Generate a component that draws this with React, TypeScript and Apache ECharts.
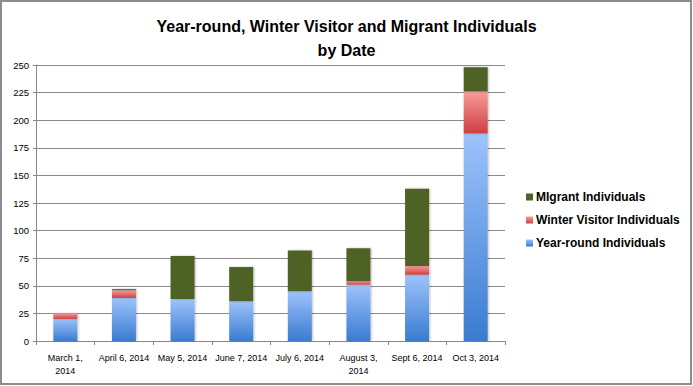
import React, { useEffect, useRef } from 'react';
import * as echarts from 'echarts';

const categories = [
  'March 1,\n2014',
  'April 6, 2014',
  'May 5, 2014',
  'June 7, 2014',
  'July 6, 2014',
  'August 3,\n2014',
  'Sept 6, 2014',
  'Oct 3, 2014',
];
const yearRound = [20, 39, 38, 36, 45, 51, 60, 188];
const winterVisitor = [5, 7, 0, 0, 0, 3, 8, 38];
const migrant = [0, 1, 39, 31, 37, 30, 70, 22];
const seriesNames = ['Year-round Individuals', 'Winter Visitor Individuals', 'MIgrant Individuals'];
const titleText = 'Year-round, Winter Visitor and Migrant Individuals\nby Date';

const FONT = '"Liberation Sans", Arial, sans-serif';

export default function App() {
  const ref = useRef<HTMLDivElement>(null);
  useEffect(() => {
    if (!ref.current) return;
    const chart = echarts.init(ref.current, undefined, { renderer: 'svg' });
    const blue = new echarts.graphic.LinearGradient(0, 0, 0, 1, [
      { offset: 0, color: '#9dc3fb' },
      { offset: 1, color: '#3a7bd0' },
    ]);
    const red = new echarts.graphic.LinearGradient(0, 0, 0, 1, [
      { offset: 0, color: '#f89c9c' },
      { offset: 1, color: '#cf3f3f' },
    ]);
    const green = '#4f6228';
    const shadow = { shadowBlur: 2, shadowColor: 'rgba(0,0,0,0.25)', shadowOffsetX: 1, shadowOffsetY: 0 };
    chart.setOption({
      animation: false,
      backgroundColor: '#ffffff',
      textStyle: { fontFamily: FONT },
      title: {
        text: titleText,
        left: 'center',
        top: 9,
        textStyle: { fontFamily: FONT, fontSize: 16, fontWeight: 'bold', color: '#000', lineHeight: 24 },
      },
      graphic: [
        {
          type: 'rect',
          shape: { x: 1, y: 1, width: 690, height: 383 },
          style: { fill: 'none', stroke: '#8c8c8c', lineWidth: 2 },
          silent: true,
        },
      ],
      legend: {
        orient: 'vertical',
        left: 521,
        top: 186,
        itemWidth: 7,
        itemHeight: 7,
        itemGap: 11,
        icon: 'rect',
        data: [seriesNames[2], seriesNames[1], seriesNames[0]],
        textStyle: { fontFamily: FONT, fontSize: 12, fontWeight: 'bold', color: '#000', padding: [0, 0, 0, -2] },
      },
      grid: { left: 36, right: 188, top: 65, bottom: 45 },
      xAxis: {
        type: 'category',
        data: categories,
        axisLine: { lineStyle: { color: '#888', width: 1 } },
        axisTick: { show: true, length: 4, alignWithLabel: false, lineStyle: { color: '#888' } },
        axisLabel: { fontFamily: FONT, fontSize: 9, color: '#000', margin: 10, lineHeight: 13, interval: 0 },
      },
      yAxis: {
        type: 'value',
        min: 0,
        max: 250,
        interval: 25,
        axisLine: { show: true, lineStyle: { color: '#888', width: 1 } },
        axisTick: { show: true, length: 3, lineStyle: { color: '#888' } },
        axisLabel: { fontFamily: FONT, fontSize: 9.5, color: '#000', margin: 7 },
        splitLine: { lineStyle: { color: '#8a8a8a', width: 1 } },
      },
      series: [
        {
          name: seriesNames[0],
          type: 'bar',
          stack: 'total',
          barWidth: 24,
          data: yearRound,
          itemStyle: { color: blue, ...shadow },
        },
        {
          name: seriesNames[1],
          type: 'bar',
          stack: 'total',
          barWidth: 24,
          data: winterVisitor,
          itemStyle: { color: red, ...shadow },
        },
        {
          name: seriesNames[2],
          type: 'bar',
          stack: 'total',
          barWidth: 24,
          data: migrant,
          itemStyle: { color: green, ...shadow },
        },
      ],
    });
    return () => chart.dispose();
  }, []);
  return (
    <div
      ref={ref}
      style={{ position: 'fixed', left: 0, top: 0, width: 693, height: 386 }}
    />
  );
}
